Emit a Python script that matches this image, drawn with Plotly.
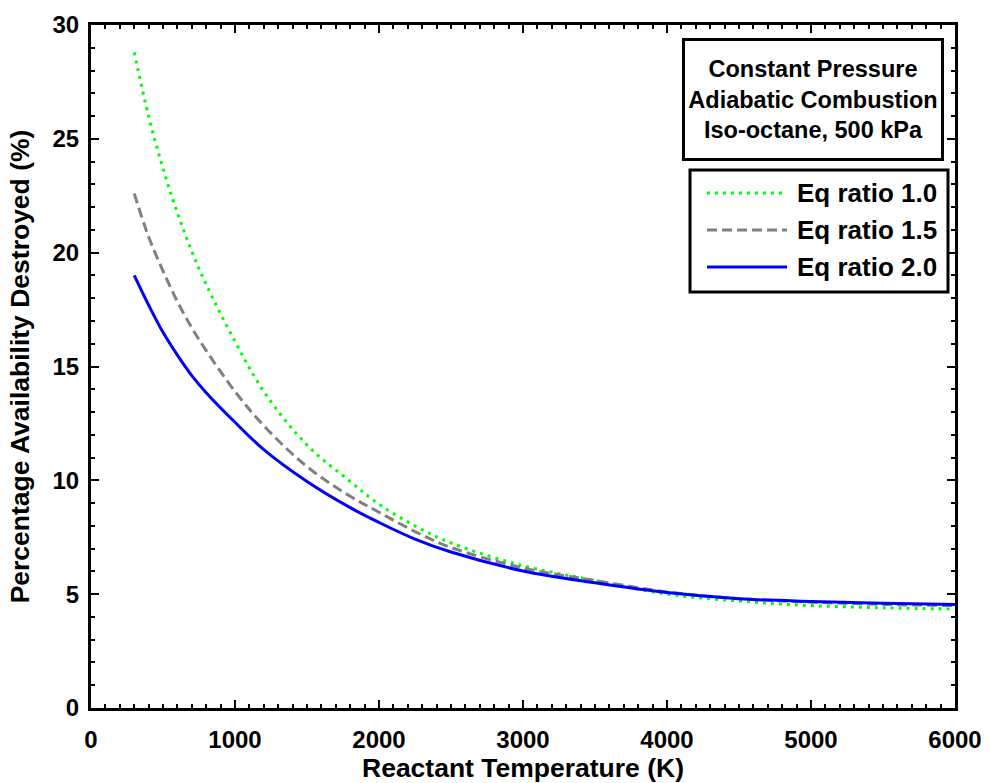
import plotly.graph_objects as go

# Reactant temperature (K)
temperature = [300, 400, 500, 600, 700, 800, 1000, 1200, 1500, 1800, 2000,
               2250, 2500, 3000, 3500, 4000, 4500, 5000, 5500, 6000]

# Percentage availability destroyed (%) for each equivalence ratio
eq_1_0 = [28.8, 26.0, 23.7, 21.75, 20.05, 18.6, 16.1, 13.9, 11.55, 9.95, 8.95,
          8.0, 7.25, 6.25, 5.6, 5.0, 4.7, 4.5, 4.4, 4.35]
eq_1_5 = [22.6, 20.7, 19.2, 17.85, 16.7, 15.7, 13.9, 12.4, 10.6, 9.3, 8.6,
          7.75, 7.05, 6.15, 5.6, 5.1, 4.8, 4.65, 4.55, 4.5]
eq_2_0 = [19.0, 17.7, 16.5, 15.5, 14.6, 13.85, 12.55, 11.35, 9.95, 8.8, 8.15,
          7.42, 6.85, 6.02, 5.5, 5.07, 4.8, 4.68, 4.6, 4.55]

series_names = ["Eq ratio 1.0", "Eq ratio 1.5", "Eq ratio 2.0"]
series_values = [eq_1_0, eq_1_5, eq_2_0]
series_colors = ["rgb(0,255,0)", "rgb(128,128,128)", "rgb(0,0,255)"]
series_dash = ["3px,5px", "10px,5px", "solid"]

x_ticks = [0, 1000, 2000, 3000, 4000, 5000, 6000]
y_ticks = [0, 5, 10, 15, 20, 25, 30]

FONT = "Liberation Sans, Arial, sans-serif"

fig = go.Figure()
for name, vals, col, dash in zip(series_names, series_values, series_colors, series_dash):
    fig.add_trace(go.Scatter(
        x=temperature, y=vals, name=name, mode="lines",
        line=dict(color=col, width=3, dash=dash, shape="spline", smoothing=1.0),
        showlegend=False,
    ))

axis_common = dict(
    showline=True, linecolor="black", linewidth=3, mirror="allticks",
    ticks="inside", tickcolor="black", tickwidth=2, ticklen=8,
    showgrid=False, zeroline=False,
    tickfont=dict(family=FONT, size=24, color="black", weight="bold"),
)

fig.update_xaxes(
    range=[0, 6000], tickvals=x_ticks, ticktext=[str(v) for v in x_ticks],
    minor=dict(ticks="inside", dtick=100, ticklen=4, tickwidth=2, tickcolor="black", showgrid=False),
    title=dict(text="Reactant Temperature (K)", standoff=6,
               font=dict(family=FONT, size=26.5, color="black", weight="bold")),
    ticklabelstandoff=8,
    **axis_common,
)
fig.update_yaxes(
    range=[0, 30], tickvals=y_ticks, ticktext=[str(v) for v in y_ticks],
    minor=dict(ticks="inside", dtick=1, ticklen=4, tickwidth=2, tickcolor="black", showgrid=False),
    title=dict(text="Percentage Availability Destroyed (%)", standoff=16,
               font=dict(family=FONT, size=26.5, color="black", weight="bold")),
    ticklabelstandoff=4,
    **axis_common,
)

# Description box
fig.add_annotation(
    xref="paper", yref="paper", x=0.8356, y=0.891, xanchor="center", yanchor="middle",
    text="Constant Pressure<br>Adiabatic Combustion<br>Iso-octane, 500 kPa",
    showarrow=False, align="center", width=256, height=117,
    bordercolor="black", borderwidth=3, borderpad=0, bgcolor="white",
    font=dict(family=FONT, size=23.5, color="black", weight="bold"),
)

# Legend box with line samples and labels
fig.add_shape(type="rect", xref="paper", yref="paper",
              x0=0.6933, x1=0.9919, y0=0.609, y1=0.7877,
              line=dict(color="black", width=3), fillcolor="white", layer="above")
legend_y = [0.754, 0.6999, 0.6457]
for name, col, dash, ly in zip(series_names, series_colors, series_dash, legend_y):
    fig.add_shape(type="line", xref="paper", yref="paper",
                  x0=0.713, x1=0.8056, y0=ly, y1=ly,
                  line=dict(color=col, width=3, dash=dash), layer="above")
    fig.add_annotation(xref="paper", yref="paper", x=0.8148, y=ly,
                       xanchor="left", yanchor="middle", text=name, showarrow=False,
                       font=dict(family=FONT, size=26, color="black", weight="bold"))

fig.update_layout(
    width=990, height=783,
    margin=dict(l=91, r=35, t=25, b=75, autoexpand=False),
    plot_bgcolor="white", paper_bgcolor="white",
    showlegend=False,
)

fig.write_html("out.html")
